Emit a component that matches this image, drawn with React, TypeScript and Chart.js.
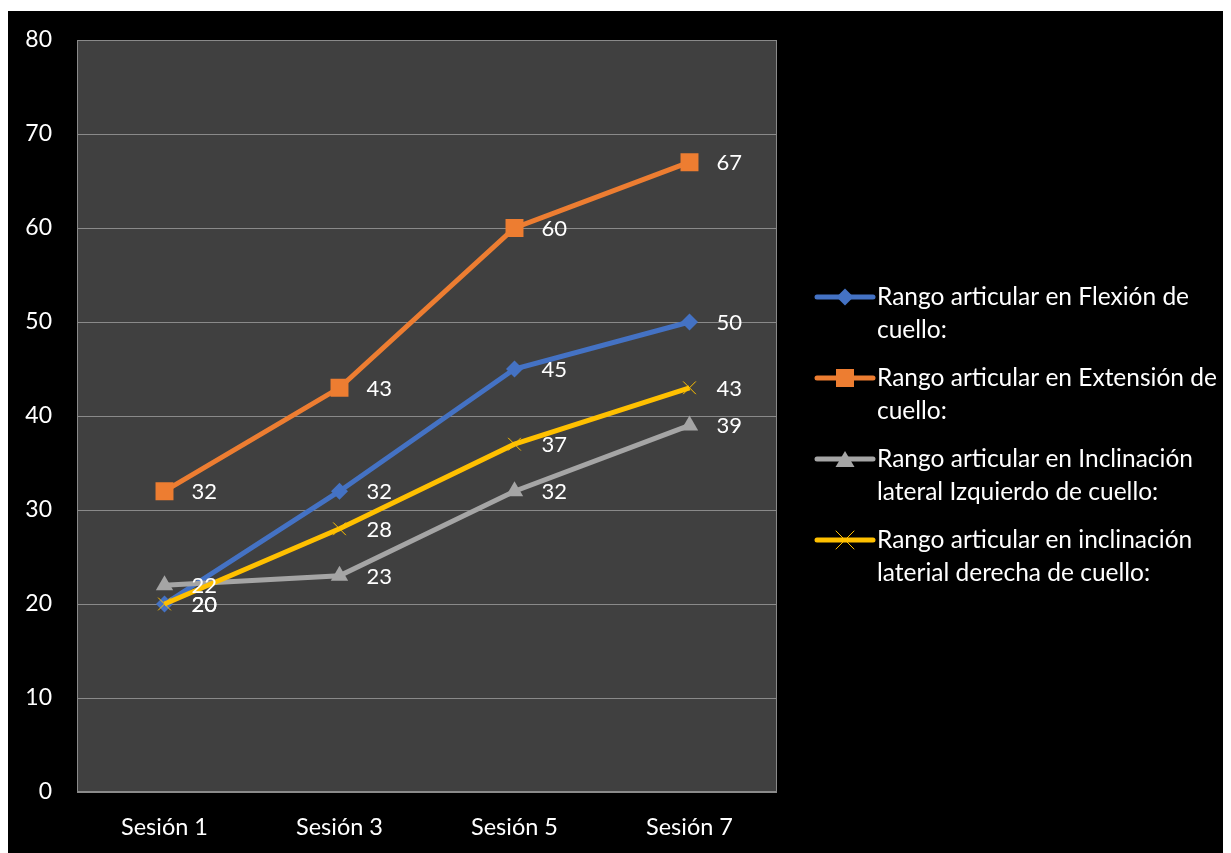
import React, { useEffect, useRef } from 'react';
import { Chart, registerables } from 'chart.js';

Chart.register(...registerables);

const categories = ['Sesión 1', 'Sesión 3', 'Sesión 5', 'Sesión 7'];
const flexion = [20, 32, 45, 50];
const extension = [32, 43, 60, 67];
const inclinacionIzq = [22, 23, 32, 39];
const inclinacionDer = [20, 28, 37, 43];
const seriesLabels = [
  'Rango articular en Flexión de cuello:',
  'Rango articular en Extensión de cuello:',
  'Rango articular en Inclinación lateral Izquierdo de cuello:',
  'Rango articular en inclinación laterial derecha de cuello:',
];
const seriesColors = ['#4472C4', '#ED7D31', '#A5A5A5', '#FFC000'];
const yMin = 0;
const yMax = 80;
const yStep = 10;

const FONT = 'Lato, "Open Sans", sans-serif';

function drawMarker(ctx: CanvasRenderingContext2D, style: string, x: number, y: number, color: string) {
  ctx.save();
  ctx.fillStyle = color;
  ctx.strokeStyle = color;
  ctx.beginPath();
  if (style === 'rectRot') {
    const r = 8.5;
    ctx.moveTo(x, y - r);
    ctx.lineTo(x + r, y);
    ctx.lineTo(x, y + r);
    ctx.lineTo(x - r, y);
    ctx.closePath();
    ctx.fill();
  } else if (style === 'rect') {
    const h = 9;
    ctx.rect(x - h, y - h, 2 * h, 2 * h);
    ctx.fill();
  } else if (style === 'triangle') {
    const r = 10;
    ctx.moveTo(x, y - r + 2);
    ctx.lineTo(x + r * 0.95, y + r * 0.6 + 2);
    ctx.lineTo(x - r * 0.95, y + r * 0.6 + 2);
    ctx.closePath();
    ctx.fill();
  } else {
    const r = 9;
    ctx.lineWidth = 1;
    ctx.moveTo(x - r, y - r);
    ctx.lineTo(x + r, y + r);
    ctx.moveTo(x + r, y - r);
    ctx.lineTo(x - r, y + r);
    ctx.stroke();
  }
  ctx.restore();
}

function wrapText(ctx: CanvasRenderingContext2D, text: string, maxW: number): string[] {
  const words = text.split(' ');
  const lines: string[] = [];
  let cur = '';
  for (const w of words) {
    const test = cur ? cur + ' ' + w : w;
    if (ctx.measureText(test).width > maxW && cur) {
      lines.push(cur);
      cur = w;
    } else {
      cur = test;
    }
  }
  if (cur) lines.push(cur);
  return lines;
}

const plotBgPlugin = {
  id: 'plotBg',
  beforeDraw(chart: any) {
    const { ctx, chartArea } = chart;
    ctx.save();
    ctx.fillStyle = '#404040';
    ctx.fillRect(chartArea.left, chartArea.top, chartArea.right - chartArea.left, chartArea.bottom - chartArea.top);
    ctx.restore();
  },
  beforeDatasetsDraw(chart: any) {
    const { ctx, chartArea } = chart;
    ctx.save();
    ctx.strokeStyle = '#8a8a8a';
    ctx.lineWidth = 1;
    ctx.strokeRect(chartArea.left + 0.5, chartArea.top + 0.5, chartArea.right - chartArea.left - 1, chartArea.bottom - chartArea.top - 1);
    ctx.restore();
  },
};

const labelsPlugin = {
  id: 'valueLabels',
  afterDatasetsDraw(chart: any) {
    const { ctx } = chart;
    ctx.save();
    ctx.font = `22px ${FONT}`;
    ctx.fillStyle = '#ffffff';
    ctx.textAlign = 'left';
    ctx.textBaseline = 'middle';
    chart.data.datasets.forEach((ds: any, i: number) => {
      const meta = chart.getDatasetMeta(i);
      meta.data.forEach((pt: any, j: number) => {
        ctx.fillText(String(ds.data[j]), pt.x + 27, pt.y + 1);
      });
    });
    ctx.restore();
  },
};

const legendPlugin = {
  id: 'customLegend',
  afterDraw(chart: any) {
    const { ctx } = chart;
    const x0 = 809;
    const x1 = 865;
    const tx = 869;
    const startY = 286;
    const entryGap = 81;
    const lineH = 33;
    ctx.save();
    ctx.font = `24.5px ${FONT}`;
    ctx.textAlign = 'left';
    ctx.textBaseline = 'middle';
    chart.data.datasets.forEach((ds: any, i: number) => {
      const y = startY + i * entryGap;
      ctx.strokeStyle = ds.borderColor;
      ctx.lineWidth = 5;
      ctx.lineCap = 'round';
      ctx.beginPath();
      ctx.moveTo(x0, y);
      ctx.lineTo(x1, y);
      ctx.stroke();
      drawMarker(ctx, ds.pointStyle, (x0 + x1) / 2, y, ds.borderColor);
      ctx.fillStyle = '#ffffff';
      const lines = wrapText(ctx, ds.label, 350);
      lines.forEach((ln, k) => ctx.fillText(ln, tx, y + k * lineH));
    });
    ctx.restore();
  },
};

export default function App() {
  const ref = useRef<HTMLCanvasElement>(null);
  useEffect(() => {
    if (!ref.current) return;
    const styles = ['rectRot', 'rect', 'triangle', 'crossRot'];
    const radii = [8.5, 12.7, 10, 9];
    const series = [flexion, extension, inclinacionIzq, inclinacionDer];
    const chart = new Chart(ref.current, {
      type: 'line',
      data: {
        labels: categories,
        datasets: series.map((d, i) => ({
          label: seriesLabels[i],
          data: d,
          borderColor: seriesColors[i],
          backgroundColor: seriesColors[i],
          borderWidth: 5,
          pointStyle: styles[i],
          pointRadius: radii[i],
          pointBorderWidth: i === 3 ? 1 : 0,
          pointBackgroundColor: seriesColors[i],
          pointBorderColor: seriesColors[i],
          tension: 0,
          order: 4 - i,
        })),
      },
      options: {
        responsive: false,
        animation: false,
        layout: { padding: { top: 29, right: 454, left: 0, bottom: 0 } },
        plugins: {
          legend: { display: false },
          tooltip: { enabled: false },
        },
        scales: {
          x: {
            offset: true,
            grid: { display: false, drawTicks: false },
            border: { display: false },
            ticks: { color: '#ffffff', font: { family: FONT, size: 23.5 }, padding: 21 },
            afterFit: (s: any) => { s.height = 61; s.paddingLeft = 0; s.paddingRight = 0; },
          },
          y: {
            min: yMin,
            max: yMax,
            grid: { color: '#8a8a8a', lineWidth: 1, drawTicks: false },
            border: { display: false },
            ticks: { stepSize: yStep, color: '#ffffff', font: { family: FONT, size: 23 }, padding: 25 },
            afterFit: (s: any) => { s.width = 69; s.paddingTop = 0; s.paddingBottom = 0; },
          },
        },
      },
      plugins: [plotBgPlugin, labelsPlugin, legendPlugin],
    });
    return () => chart.destroy();
  }, []);
  return (
    <div style={{ marginTop: 3, width: 1223, height: 842, background: '#000000' }}>
      <canvas ref={ref} width={1223} height={842} style={{ display: 'block' }} />
    </div>
  );
}
